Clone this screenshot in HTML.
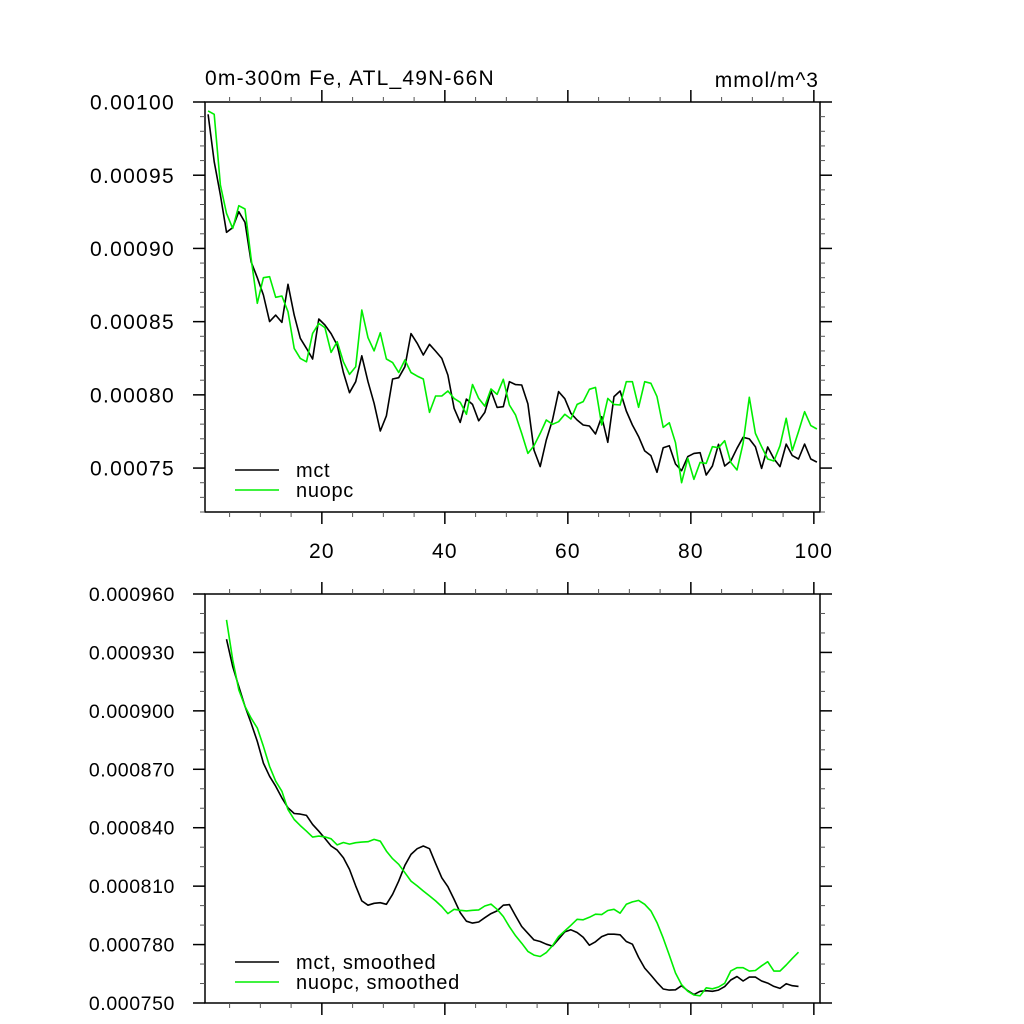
<!DOCTYPE html>
<html><head><meta charset="utf-8"><style>
html,body{margin:0;padding:0;background:#fff;}
svg{display:block;font-family:"Liberation Sans",Arial,sans-serif;}
</style></head><body>
<svg id="chart" width="1024" height="1024" viewBox="0 0 1024 1024">
<text x="205" y="85" font-size="21" letter-spacing="1.2">0m-300m Fe, ATL_49N-66N</text>
<text x="819" y="87" font-size="21" letter-spacing="1" text-anchor="end">mmol/m^3</text>
<g id="top"></g>
<g id="bot"></g>
</svg>
<script>
// raw series (units of 1e-5 mmol/m^3), points at x = i + 0.5
const mctRaw = [99.16,95.92,93.65,91.10,91.42,92.51,91.78,89.09,88.0,86.82,85.0,85.45,84.95,87.55,85.45,83.86,83.17,82.45,85.18,84.77,84.18,83.4,81.53,80.15,80.9,82.67,80.9,79.42,77.53,78.57,81.08,81.17,81.92,84.18,83.52,82.72,83.45,82.99,82.49,81.35,79.08,78.12,79.71,79.35,78.23,78.8,80.26,79.14,79.19,80.9,80.70,80.67,79.38,76.23,75.1,76.92,78.28,80.22,79.74,78.74,78.28,77.94,77.87,77.33,78.51,76.76,79.88,80.26,78.9,77.94,77.15,76.17,75.85,74.71,76.39,76.53,75.28,74.82,75.78,76.0,76.05,74.53,75.14,76.62,75.14,75.48,76.35,77.1,76.99,76.46,74.98,76.44,75.64,75.1,76.64,75.85,75.62,76.64,75.62,75.41];
const nuopcRaw = [99.39,99.16,94.33,92.4,91.37,92.92,92.69,89.32,86.25,88.0,88.07,86.66,86.75,85.68,83.17,82.49,82.26,84.2,84.88,84.59,82.9,83.63,82.26,81.4,81.92,85.79,83.9,83.0,84.24,82.45,82.2,81.53,82.38,81.53,81.28,81.08,78.8,79.92,79.92,80.26,79.76,79.49,78.67,80.71,79.76,79.23,80.4,80.03,81.06,79.31,78.62,77.37,76.0,76.53,77.37,78.28,77.99,78.17,78.67,78.35,79.35,79.54,80.38,80.51,77.94,79.76,79.35,79.31,80.9,80.9,79.15,80.9,80.79,79.88,77.78,78.1,76.73,74.0,75.67,74.23,75.39,75.32,76.46,76.39,76.87,75.39,74.87,76.69,79.83,77.37,76.46,75.62,75.48,76.53,78.4,76.19,77.49,78.85,77.9,77.67];
// smoothed series (units of 1e-6), starting at index 4
const smoothStart = 4;
const mctSmooth = [936.8,922.8,912.5,902.3,893.7,884.3,873.2,866.4,861.3,855.3,850.2,847.3,847.0,846.3,841.7,838.2,834.5,830.6,828.5,824.6,818.6,810.1,802.4,800.2,801.2,801.5,800.7,805.8,812.6,820.7,826.3,829.2,830.6,829.2,821.7,814.3,809.7,803.2,796.4,792.0,791.0,791.6,793.8,795.9,797.3,800.2,800.5,794.7,789.3,785.8,782.4,781.6,780.2,779.2,782.8,786.5,787.6,786.2,783.8,779.7,781.4,784.1,785.3,785.3,785.0,781.6,780.2,773.4,767.9,764.3,760.6,757.2,756.6,756.8,758.9,756.3,754.3,756.0,756.3,756.0,756.6,758.4,761.8,763.6,761.3,763.3,763.3,761.3,760.2,758.5,757.5,759.9,758.9,758.5];
const nuopcSmooth = [946.7,926.2,910.8,902.3,896.3,891.2,881.8,871.5,863.9,858.7,849.3,844.2,841.1,838.2,835.2,835.7,835.3,834.3,831.2,832.4,831.6,832.3,832.6,832.8,834.0,833.1,828.0,824.1,821.2,816.9,812.6,810.1,807.5,805.0,802.4,799.5,795.9,798.1,797.6,797.3,797.6,797.8,799.8,800.8,798.1,794.4,789.2,784.5,780.7,776.5,774.6,773.9,775.9,779.4,784.1,787.0,789.9,793.0,792.7,794.0,795.6,795.4,797.5,798.1,796.1,800.7,801.9,802.7,800.7,797.3,791.3,783.3,774.6,765.4,759.4,756.0,754.1,753.7,757.8,757.3,758.2,760.1,766.5,768.1,768.1,766.4,766.7,769.1,771.2,766.4,766.4,769.5,772.9,776.1];
const topTickLabels = ["0.00100","0.00095","0.00090","0.00085","0.00080","0.00075"];
const topTickVals = [100,95,90,85,80,75];
const botTickLabels = ["0.000960","0.000930","0.000900","0.000870","0.000840","0.000810","0.000780","0.000750"];
const botTickVals = [960,930,900,870,840,810,780,750];
const xTickVals = [20,40,60,80,100];

const NS="http://www.w3.org/2000/svg";
function mk(tag,attrs,parent){const e=document.createElementNS(NS,tag);for(const k in attrs)e.setAttribute(k,attrs[k]);parent.appendChild(e);return e;}
const X0=205,X1=820;
function xs(v){return X0+(v-1)*(X1-X0)/100;}

function panel(g,top,bot,ymin,ymax,minorStep,majorVals,majorLabels,showXLabels,fs,ls){
  const ys=v=>bot-(v-ymin)*(bot-top)/(ymax-ymin);
  const fr=mk('rect',{x:X0,y:top,width:X1-X0,height:bot-top,fill:'none',stroke:'#000','stroke-width':1.5},g);
  
  
  for(let v=ymin;v<=ymax+1e-9;v+=minorStep){
    const y=ys(v);
    mk('line',{x1:X0-5,x2:X0,y1:y,y2:y,stroke:'#555','stroke-width':1},g);
    mk('line',{x1:X1,x2:X1+5,y1:y,y2:y,stroke:'#555','stroke-width':1},g);
  }
  majorVals.forEach((v,i)=>{
    const y=ys(v);
    mk('line',{x1:X0-12,x2:X0,y1:y,y2:y,stroke:'#000','stroke-width':1.5},g);
    mk('line',{x1:X1,x2:X1+12,y1:y,y2:y,stroke:'#000','stroke-width':1.5},g);
    const t=mk('text',{x:175,y:y+fs*0.36,'font-size':fs,'letter-spacing':ls,'text-anchor':'end'},g);
    t.textContent=majorLabels[i];
    
    
  });
  for(let v=5;v<=100;v+=5){
    const x=xs(v);const maj=v%20===0;
    const L=maj?12:5;const c=maj?'#000':'#555';
    mk('line',{x1:x,x2:x,y1:top-L,y2:top,stroke:c,'stroke-width':maj?1.5:1},g);
    mk('line',{x1:x,x2:x,y1:bot,y2:bot+L,stroke:c,'stroke-width':maj?1.5:1},g);
  }
  if(showXLabels){
    xTickVals.forEach(v=>{
      const t=mk('text',{x:xs(v),y:558,'font-size':21,'letter-spacing':1.2,'text-anchor':'middle'},g);
      t.textContent=String(v);
      
      
    });
  }
  return ys;
}
function series(g,arr,start,ys,color,name){
  const pts=arr.map((v,i)=>xs(start+i+0.5).toFixed(1)+','+ys(v).toFixed(1)).join(' ');
  const p=mk('polyline',{points:pts,fill:'none',stroke:color,'stroke-width':1.6,'stroke-linejoin':'round'},g);
  
  
}
function legend(g,y,label,color,name){
  mk('line',{x1:235,x2:279,y1:y,y2:y,stroke:color,'stroke-width':1.6},g);
  const t=mk('text',{x:296,y:y+7,'font-size':20,'letter-spacing':0.7},g);
  t.textContent=label;
  
  
}
const gt=document.getElementById('top');
const ysT=panel(gt,102,512,72,100,1,topTickVals,topTickLabels,true,21,1.3);
series(gt,mctRaw,1,ysT,'#000','mct-line');
series(gt,nuopcRaw,1,ysT,'#00ee00','nuopc-line');
legend(gt,470,'mct','#000','legend-mct');
legend(gt,490,'nuopc','#00ee00','legend-nuopc');
const gb=document.getElementById('bot');
const ysB=panel(gb,594,1003,750,960,10,botTickVals,botTickLabels,false,19.5,0.6);
series(gb,mctSmooth,smoothStart,ysB,'#000','mct-smoothed-line');
series(gb,nuopcSmooth,smoothStart,ysB,'#00ee00','nuopc-smoothed-line');
legend(gb,962,'mct, smoothed','#000','legend-mct-smoothed');
legend(gb,982,'nuopc, smoothed','#00ee00','legend-nuopc-smoothed');
</script>
</body></html>
